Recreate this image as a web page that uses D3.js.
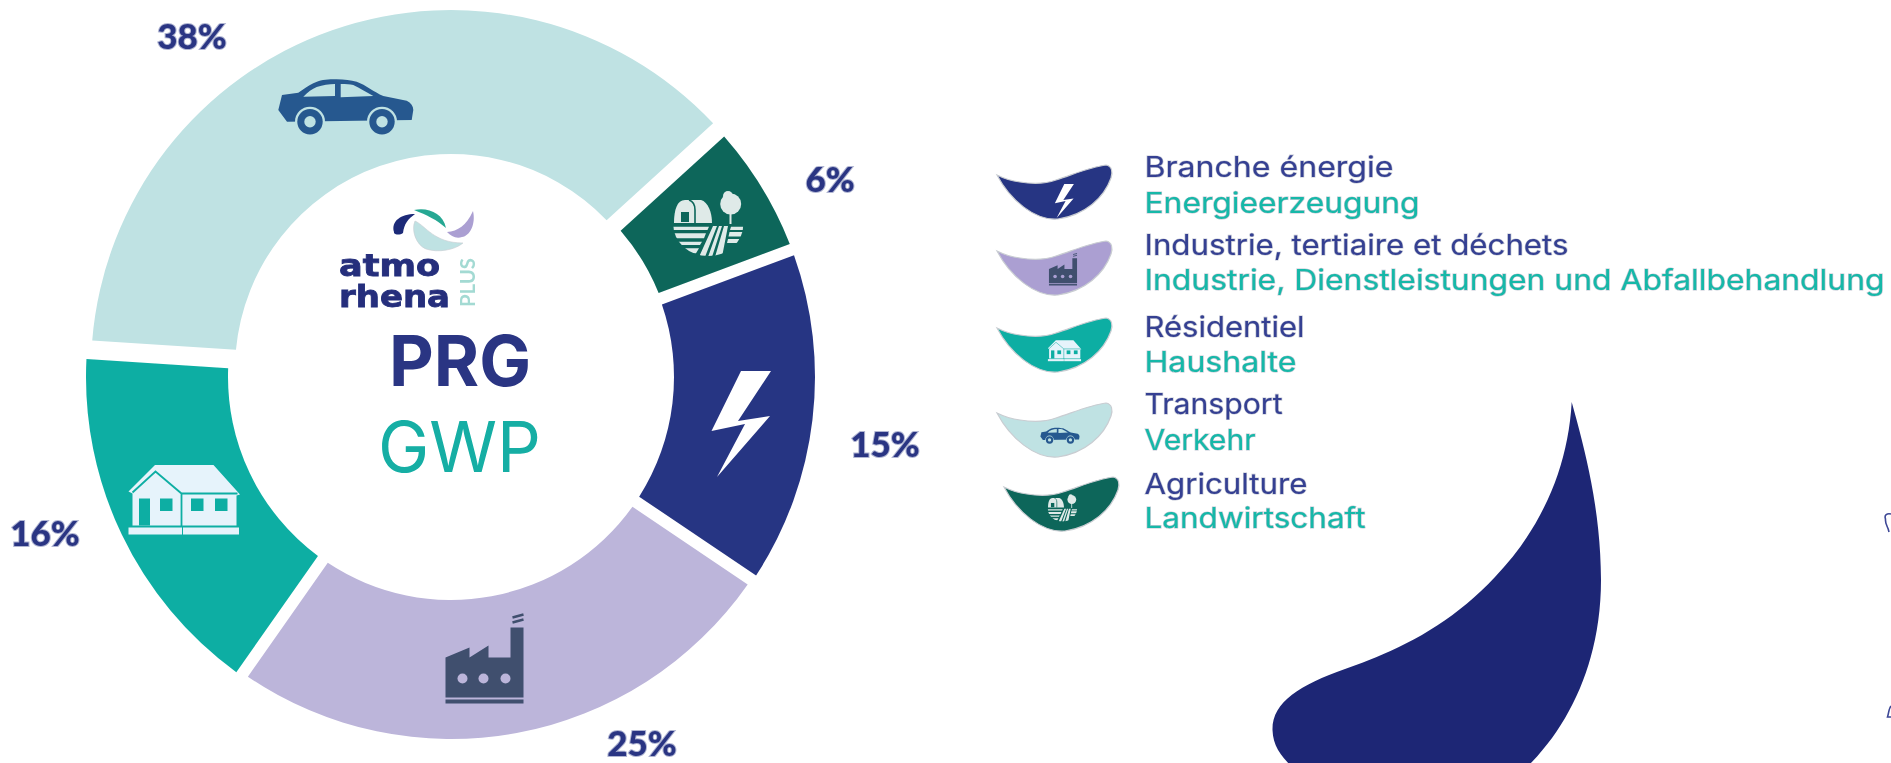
<!DOCTYPE html>
<html>
<head>
<meta charset="utf-8">
<script src="https://cdn.jsdelivr.net/npm/d3@7"></script>
<style>
  html, body { margin: 0; padding: 0; background: #fff; overflow: hidden; }
</style>
</head>
<body>
<script>
var width = 1891, height = 763;

// sectors, clockwise from the lightning one
var sectors = ["energie", "industrie", "residentiel", "transport", "agriculture"];
var shares = [15.14, 25.3, 16.3, 37.2, 6.06];   // estimated from the arcs, they round to the printed labels
var shareLabels = ["15%", "25%", "16%", "38%", "6%"];
var sectorColors = ["#283583", "#bcb5da", "#0eaea3", "#bfe2e3", "#0b665a"];
var leafColors = ["#283583", "#ab9fd2", "#0eaea3", "#bfe2e3", "#0b665a"];
var legendFr = ["Branche énergie", "Industrie, tertiaire et déchets", "Résidentiel", "Transport", "Agriculture"];
var legendDe = ["Energieerzeugung", "Industrie, Dienstleistungen und Abfallbehandlung", "Haushalte", "Verkehr", "Landwirtschaft"];

// layout only
var labelPos = [[885, 457], [642, 756], [45, 546], [192, 49], [830, 192]];
var outerR = [364, 362, 365, 360, 364], innerR = [223, 223, 223, 216, 224];
var sliceDy = [0, 0, 0, -7, 0];
var iconPos = [[741, 424], [484.5, 658.5], [184.5, 499.5], [346, 107], [709, 224]];
var legendFrY = [177, 255, 337, 414, 494], legendDeY = [213, 290, 372, 450, 528];
var legendFrW = [249, 424, 160, 138, 163], legendDeW = [275, 740, 152, 111, 221];
var leafOffset = [[0, 0], [0, 76], [0, 153], [0, 238], [7, 312]];
var leafIcon = [[1064.3, 201, 0.32], [1063, 269.3, 0.36], [1064.7, 350.7, 0.3], [1060, 435.7, 0.29], [1062.7, 508, 0.42]];

var navy = "#2a3583", teal = "#12aea4";

var svg = d3.select("body").append("svg")
    .attr("width", width)
    .attr("height", height);

var defs = svg.append("defs");
defs.append("filter").attr("id", "soft")
    .append("feGaussianBlur").attr("stdDeviation", 0.7);
defs.append("filter").attr("id", "softer")
    .append("feGaussianBlur").attr("stdDeviation", 0.45);

var art = svg.append("g").attr("filter", "url(#soft)");

// donut
var pie = d3.pie().sort(null)
    .startAngle(69.5 * Math.PI / 180)
    .endAngle(429.5 * Math.PI / 180);

var arc = d3.arc()
    .padAngle(0.033)
    .padRadius(364)
    .outerRadius(function (d) { return outerR[d.index]; })
    .innerRadius(function (d) { return innerR[d.index]; });

art.append("g").attr("class", "donut")
    .attr("transform", "translate(451,377)")
    .selectAll("path")
    .data(pie(shares))
    .enter()
    .append("path")
    .attr("transform", function (d) { return "translate(0," + sliceDy[d.index] + ")"; })
    .attr("d", arc)
    .attr("fill", function (d) { return sectorColors[d.index]; });

// icons, all drawn around 0,0
function drawIcon(g, name, bg, uid) {
    if (name == "energie") {
        g.append("path").attr("fill", "#fff")
            .attr("d", "M30 -53 L0 -53 L-29.5 7 L4 0 L-24 53 L29 -8 L-3 -3 Z");
    }
    if (name == "industrie") {
        var c = "#3f4f6e";
        g.append("path").attr("fill", c)
            .attr("d", "M-39 -1 L-15 -11 L-15 -1 L4 -13 L4 -1 L26 -1 L26 -31 L39 -31 L39 39 L-39 39 Z");
        g.append("rect").attr("x", -39).attr("y", 41).attr("width", 78).attr("height", 4).attr("fill", c);
        g.append("path").attr("fill", "none").attr("stroke", c).attr("stroke-width", 2.4)
            .attr("d", "M28 -36 L39 -39 M28 -41 L39 -44");
        g.selectAll("circle.win").data([-22, -1, 21]).enter().append("circle")
            .attr("cx", function (d) { return d; }).attr("cy", 20).attr("r", 5).attr("fill", bg);
    }
    if (name == "residentiel") {
        var h = "#e6f3fb";
        g.append("path").attr("fill", h)
            .attr("d", "M-56 -8 L-29.5 -34.5 L29 -34.5 L55.5 -5 L52 -4 L52 26 L-52 26 L-52 -6 Z");
        g.append("path").attr("fill", "none").attr("stroke", bg).attr("stroke-width", 1.8)
            .attr("d", "M-52 -7 L-29 -28 L-3 -6 L53 -6 M-3 -6 V35");
        g.append("rect").attr("x", -56).attr("y", 28).attr("width", 110.5).attr("height", 7).attr("fill", h);
        g.append("path").attr("stroke", bg).attr("stroke-width", 1).attr("d", "M-2 27 V36");
        g.append("rect").attr("x", -45.5).attr("y", -1).attr("width", 11).attr("height", 27).attr("fill", bg);
        g.selectAll("rect.win").data([-24.5, 6.5, 30.5]).enter().append("rect")
            .attr("x", function (d) { return d; }).attr("y", -1)
            .attr("width", 12.5).attr("height", 12.5).attr("fill", bg);
    }
    if (name == "transport") {
        var k = "#27588f";
        g.append("path").attr("fill", k)
            .attr("d", "M-67.7 3 L-64 -12 L-47.7 -14.3 C-42 -18 -38 -21 -32.7 -23.7 C-26 -27 -20 -27.7 -12.7 -27.7 C-3 -28 4 -27 10.7 -25.3 C20 -22 28 -15 37.3 -11 L60.7 -6.3 C65 -4 67.3 -1 67.3 3 L65.7 13 L-59 14.7 Z");
        g.append("path").attr("fill", bg)
            .attr("d", "M-42.7 -10.3 C-38 -15 -34 -18 -29.3 -20 C-23 -22 -17 -23 -11 -23 L-11 -11 Z M-5.3 -23 C0 -23 4 -23 7.3 -22 C14 -19 20 -15 27.3 -11 L-5.3 -9.7 Z");
        g.selectAll("g.w").data([-36, 36]).enter().append("g")
            .attr("transform", function (d) { return "translate(" + d + ",14.7)"; })
            .each(function () {
                var w = d3.select(this);
                w.append("circle").attr("r", 15).attr("fill", bg);
                w.append("circle").attr("r", 12.7).attr("fill", k);
                w.append("circle").attr("r", 5.7).attr("fill", bg);
            });
    }
    if (name == "agriculture") {
        var w2 = "#dfeae8";
        var clip = "farm" + uid;
        g.append("clipPath").attr("id", clip)
            .append("ellipse").attr("cx", -0.7).attr("cy", 1).attr("rx", 35).attr("ry", 31);
        // barn
        g.append("path").attr("fill", w2)
            .attr("d", "M-35 -1 C-35 -14 -32 -24 -24 -24 L-8 -24 C-1 -22 3 -12 3 -1 Z");
        g.append("path").attr("fill", "none").attr("stroke", bg).attr("stroke-width", 1.6)
            .attr("d", "M-14 -1 V-14 C-14 -20 -17 -23 -20 -24");
        g.append("rect").attr("x", -28).attr("y", -12).attr("width", 8).attr("height", 10).attr("fill", bg);
        // fields, stripes left and right of the furrows
        var fields = g.append("g").attr("clip-path", "url(#" + clip + ")").attr("fill", w2);
        fields.append("path")
            .attr("d", "M-36 2.7 H0 L-1.5 6 H-36 Z M-36 9.3 H-3 L-5 14.3 H-36 Z M-36 17.7 H-7 L-9 21 H-36 Z M-36 24.3 H-10 L-13 29.3 H-36 Z");
        fields.append("path")
            .attr("d", "M4 2 L8 2 L-4 33 L-10 33 Z M10 2 L13 2 L3 33 L-1 33 Z M15 2 L19 2 L13 33 L6 33 Z");
        fields.append("path")
            .attr("d", "M22 2.7 H36 V6 H21 Z M20.5 8 H36 V12.5 H19.5 Z M19 15 H36 V19 H18 Z");
        // tree
        g.append("circle").attr("cx", 21.7).attr("cy", -20).attr("r", 10.5).attr("fill", w2);
        g.append("circle").attr("cx", 19).attr("cy", -28).attr("r", 5).attr("fill", w2);
        g.append("rect").attr("x", 20.5).attr("y", -14).attr("width", 2).attr("height", 14).attr("fill", w2);
    }
}

art.append("g").attr("class", "icons")
    .selectAll("g")
    .data(sectors)
    .enter()
    .append("g")
    .attr("transform", function (d, i) { return "translate(" + iconPos[i][0] + "," + iconPos[i][1] + ")"; })
    .each(function (d, i) { drawIcon(d3.select(this), d, sectorColors[i], "a" + i); });

// share labels
art.append("g").attr("class", "shares")
    .selectAll("text")
    .data(shareLabels)
    .enter()
    .append("text")
    .attr("x", function (d, i) { return labelPos[i][0]; })
    .attr("y", function (d, i) { return labelPos[i][1]; })
    .attr("text-anchor", "middle")
    .style("font-family", "Lato")
    .style("font-weight", 900)
    .style("font-size", "35px")
    .style("fill", navy)
    .style("stroke", "#b0b5d2")
    .style("stroke-width", 2)
    .style("paint-order", "stroke")
    .text(function (d) { return d; });

// center logo
var logo = art.append("g").attr("class", "logo");
logo.append("path").attr("fill", "#1d2a78")
    .attr("d", "M394 232 C391 221 401 214 415 214 C408 219 404 224 403 233 C400 235 396 235 394 233 Z");
logo.append("path").attr("fill", "#27a893")
    .attr("d", "M414 210 C428 207 443 213 446 228 C437 220 427 215 414 210 Z");
logo.append("path").attr("fill", "#bfe2e3").attr("stroke", "#c9cdd2").attr("stroke-width", 0.6)
    .attr("d", "M415 221 C426 226 434 243 463 243 C455 250 438 253 426 249 C416 245 411 230 415 221 Z");
logo.append("path").attr("fill", "#ab9fd2")
    .attr("d", "M447 232 C458 231 466 226 473 211 C476 224 470 236 462 237 C456 239 451 236 447 232 Z");

logo.selectAll("text.name")
    .data([["atmo", 275.5, 101], ["rhena", 307, 111]])
    .enter()
    .append("text")
    .attr("x", 339)
    .attr("y", function (d) { return d[1]; })
    .attr("textLength", function (d) { return d[2]; })
    .attr("lengthAdjust", "spacingAndGlyphs")
    .style("font-family", "DejaVu Sans")
    .style("font-weight", 700)
    .style("font-size", "29.5px")
    .style("fill", "#252f7c")
    .style("stroke", "#252f7c")
    .style("stroke-width", 0.8)
    .text(function (d) { return d[0]; });

logo.append("text")
    .attr("transform", "translate(475,307) rotate(-90)")
    .attr("textLength", 49)
    .attr("lengthAdjust", "spacingAndGlyphs")
    .style("font-family", "Lato")
    .style("font-weight", 700)
    .style("font-size", "21px")
    .style("fill", "#a3dad3")
    .text("PLUS");

art.append("text")
    .attr("x", 389).attr("y", 386)
    .attr("textLength", 142).attr("lengthAdjust", "spacingAndGlyphs")
    .style("font-family", "Inter").style("font-weight", 700).style("font-size", "70px")
    .style("fill", navy)
    .text("PRG");

art.append("text")
    .attr("x", 378).attr("y", 472)
    .attr("textLength", 163).attr("lengthAdjust", "spacingAndGlyphs")
    .style("font-family", "Inter").style("font-weight", 400).style("font-size", "70px")
    .style("fill", teal)
    .text("GWP");

// legend
var legendArt = svg.append("g").attr("class", "legend").attr("filter", "url(#softer)");

var leafPath = "M997 175 C1005 179 1012 181 1020 182 C1032 184 1045 184 1056 180 C1072 175 1090 167 1106 165 C1112 166 1113 172 1111 178 C1104 198 1085 215 1058 219 C1035 221 1010 200 997 175 Z";

var leaves = legendArt.selectAll("g.leaf")
    .data(sectors)
    .enter()
    .append("g")
    .attr("class", "leaf");

leaves.append("path")
    .attr("transform", function (d, i) { return "translate(" + leafOffset[i][0] + "," + leafOffset[i][1] + ")"; })
    .attr("d", leafPath)
    .attr("fill", function (d, i) { return leafColors[i]; })
    .attr("stroke", "#c9cdd2")
    .attr("stroke-width", 1.2);

leaves.append("g")
    .attr("transform", function (d, i) {
        return "translate(" + leafIcon[i][0] + "," + leafIcon[i][1] + ") scale(" + leafIcon[i][2] + ")";
    })
    .each(function (d, i) { drawIcon(d3.select(this), d, leafColors[i], "b" + i); });

function legendText(names, ys, widths, color, cls) {
    legendArt.selectAll("text." + cls)
        .data(names)
        .enter()
        .append("text")
        .attr("class", cls)
        .attr("x", 1144.5)
        .attr("y", function (d, i) { return ys[i]; })
        .attr("textLength", function (d, i) { return widths[i]; })
        .attr("lengthAdjust", "spacingAndGlyphs")
        .style("font-family", "Inter")
        .style("font-weight", 400)
        .style("font-size", "28px")
        .style("fill", color)
        .style("stroke", "#c4c8d4")
        .style("stroke-width", 1.2)
        .style("paint-order", "stroke")
        .text(function (d) { return d; });
}
legendText(legendFr, legendFrY, legendFrW, "#343f92", "fr");
legendText(legendDe, legendDeY, legendDeW, "#14b8a8", "de");

// big navy drop, cut by the bottom edge
svg.append("path")
    .attr("fill", "#1d2675")
    .attr("d", "M1571.7 402 C1568 470 1540 530 1495 577 C1450 625 1400 650 1345 669 C1300 685 1272 702 1272.5 730 C1273 745 1280 755 1292 767 L1527 767 C1570 725 1601 660 1601 580 C1601 510 1585 450 1571.7 402 Z");

// bits of the next picture showing at the right edge
svg.append("path")
    .attr("fill", "none").attr("stroke", "#3d4796").attr("stroke-width", 1.6)
    .attr("d", "M1891 514 C1887 513 1884 515 1885.5 519 C1885 525 1888 526 1889 532 M1891 706 C1889 708 1889 712 1887.5 717 L1891 717");
</script>
</body>
</html>
